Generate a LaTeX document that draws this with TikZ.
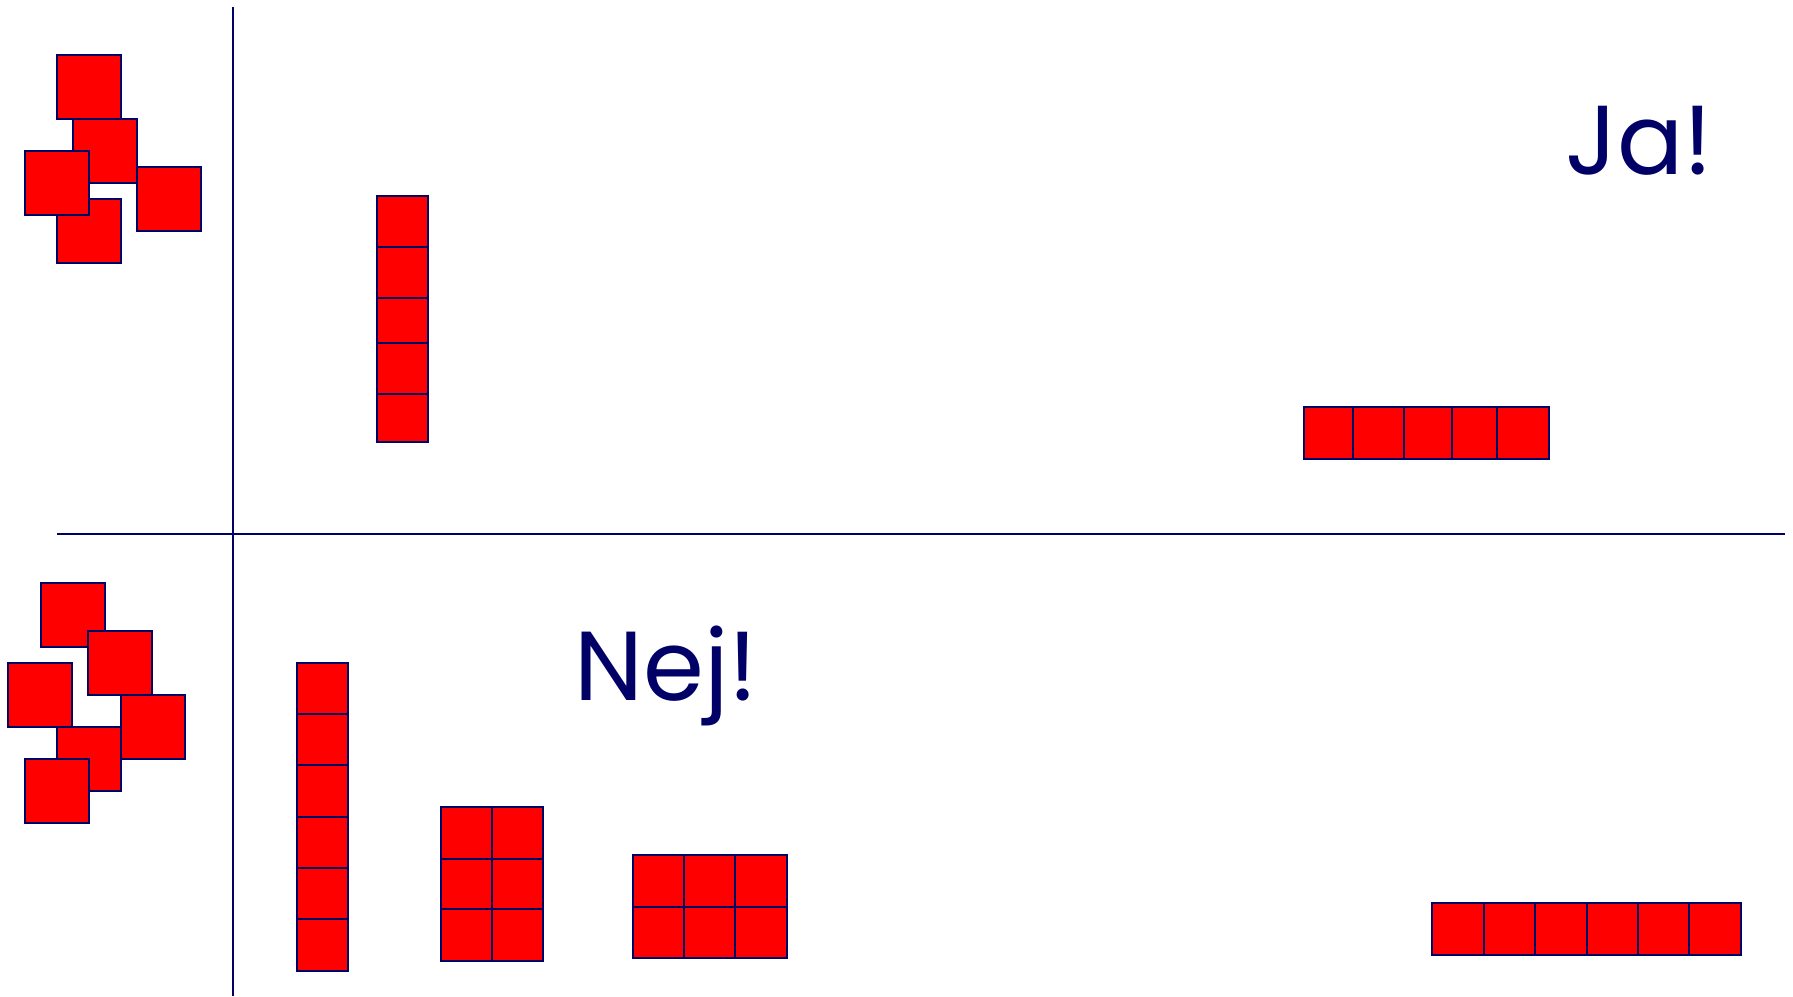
\documentclass[tikz,border=0pt]{standalone}
\usepackage{fontspec}
\newfontfamily\handfont{Poppins}
\definecolor{navy}{HTML}{000066}
\begin{document}
\begin{tikzpicture}[x=0.5pt,y=-0.5pt,
  cell/.style={fill=red, draw=navy, line width=1pt},
  divider/.style={draw=navy, line width=1pt},
  axis/.style={draw=navy, line width=1pt},
  handlabel/.style={font=\handfont\fontsize{49}{60}\selectfont, text=navy, inner sep=0pt}]
\useasboundingbox (0,0) rectangle (1793,996);
% axes
\coordinate (vtop) at (233,7);
\coordinate (vbot) at (233,996);
\coordinate (hleft) at (57,534);
\coordinate (hright) at (1785,534);
\draw[axis] (vtop) -- (vbot);
\draw[axis] (hleft) -- (hright);
% top-left heap
\draw[cell] (57,55) rectangle ++(64,64);
\draw[cell] (73,119) rectangle ++(64,64);
\draw[cell] (57,199) rectangle ++(64,64);
\draw[cell] (137,167) rectangle ++(64,64);
\draw[cell] (25,151) rectangle ++(64,64);
% bottom-left heap
\draw[cell] (41,583) rectangle ++(64,64);
\draw[cell] (88,631) rectangle ++(64,64);
\draw[cell] (8,663) rectangle ++(64,64);
\draw[cell] (57,727) rectangle ++(64,64);
\draw[cell] (121,695) rectangle ++(64,64);
\draw[cell] (25,759) rectangle ++(64,64);
% top column 1x5
\draw[cell] (377,196) rectangle (428,442);
\foreach \yy in {247,298,343,394} \draw[divider] (377,\yy) -- (428,\yy);
% top row 5x1
\draw[cell] (1304,407) rectangle (1549,459);
\foreach \xx in {1353,1404,1452,1497} \draw[divider] (\xx,407) -- (\xx,459);
% bottom column 1x6
\draw[cell] (297,663) rectangle (348,971);
\foreach \yy in {714,765,817,868,919} \draw[divider] (297,\yy) -- (348,\yy);
% 2x3 block
\draw[cell] (441,807) rectangle (543,961);
\draw[divider] (492,807) -- (492,961);
\foreach \yy in {859,909} \draw[divider] (441,\yy) -- (543,\yy);
% 3x2 block
\draw[cell] (633,855) rectangle (787,958);
\foreach \xx in {684,735} \draw[divider] (\xx,855) -- (\xx,958);
\draw[divider] (633,907) -- (787,907);
% bottom row 6x1
\draw[cell] (1432,903) rectangle (1741,955);
\foreach \xx in {1484,1535,1587,1638,1689} \draw[divider] (\xx,903) -- (\xx,955);
% labels
\node[handlabel, anchor=base west] (ja) at (1565,174) {Ja!};
\node[handlabel, anchor=base west] (nej) at (574,700) {Nej!};
\end{tikzpicture}
\end{document}
